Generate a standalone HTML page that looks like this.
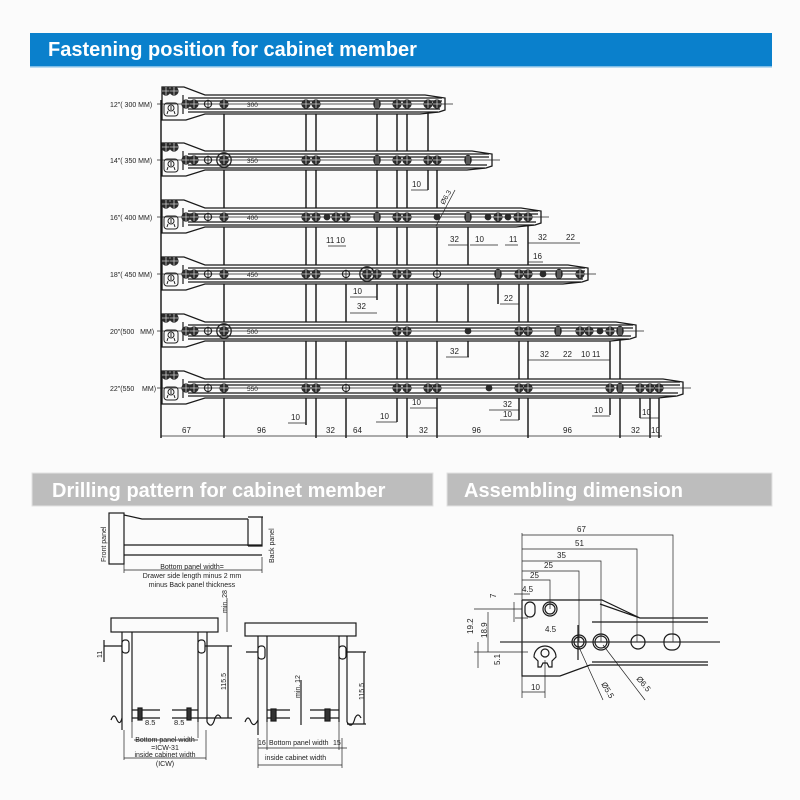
<!DOCTYPE html>
<html><head><meta charset="utf-8"><style>
html,body{margin:0;padding:0;background:#fbfbfb;}
svg{display:block;font-family:"Liberation Sans",sans-serif;}
.l{stroke:#1a1a1a;stroke-width:1.2;fill:none}
.t{stroke:#222;stroke-width:.7;fill:none}
.r{stroke:#1a1a1a;stroke-width:1.3;fill:#fbfbfb}
.v{stroke:#111;stroke-width:1.4}
text{fill:#222;font-size:8px}
</style></head><body>
<svg width="800" height="800" viewBox="0 0 800 800" xmlns="http://www.w3.org/2000/svg">
<defs>
<g id="h"><circle r="4.6" fill="#2a2a2a"/><path d="M-4,0H4M0,-4V4" stroke="#ccc" stroke-width=".8"/></g>
<g id="o"><circle r="3.6" fill="none" stroke="#222" stroke-width="1.1"/><path d="M-4.5,0H4.5M0,-4.5V4.5" stroke="#222" stroke-width=".8"/></g>
<g id="b"><circle r="7.2" fill="none" stroke="#222" stroke-width="1.3"/><circle r="4.8" fill="#2a2a2a"/><path d="M-4,0H4M0,-4V4" stroke="#ccc" stroke-width=".8"/></g>
<g id="s"><ellipse rx="3.8" ry="5.2" fill="#2a2a2a"/><path d="M-1,-4V4M1,-4V4" stroke="#ccc" stroke-width=".6"/></g>
<g id="m"><circle r="3.4" fill="#2a2a2a"/></g>
<g id="lg"><rect x="-7" y="-6" width="14" height="13" rx="3" fill="none" stroke="#222" stroke-width="1"/><circle r="3" cy="-1" fill="none" stroke="#222" stroke-width="1"/><path d="M-3,2L-4,5M3,2L4,5M0,-3V1" stroke="#222" stroke-width="1"/></g>
</defs>

<rect x="30" y="33" width="742" height="33" fill="#0a80cc"/>
<rect x="30" y="66" width="742" height="1.5" fill="#7fbde6"/>
<text x="48" y="56" style="font-size:20px;font-weight:bold;fill:#fff">Fastening position for cabinet member</text>

<g class="v">
<line x1="224" y1="104" x2="224" y2="438"/>
<line x1="306" y1="104" x2="306" y2="425"/>
<line x1="316" y1="104" x2="316" y2="438"/>
<line x1="346" y1="274" x2="346" y2="438"/>
<line x1="377" y1="104" x2="377" y2="300"/>
<line x1="397" y1="104" x2="397" y2="422"/>
<line x1="407" y1="104" x2="407" y2="438"/>
<line x1="428" y1="104" x2="428" y2="190"/>
<line x1="437" y1="160" x2="437" y2="438"/>
<line x1="468" y1="217" x2="468" y2="357"/>
<line x1="498" y1="274" x2="498" y2="304"/>
<line x1="519" y1="274" x2="519" y2="420"/>
<line x1="528" y1="217" x2="528" y2="438"/>
<line x1="610" y1="331" x2="610" y2="415"/>
<line x1="620" y1="331" x2="620" y2="438"/>
<line x1="640" y1="388" x2="640" y2="418"/>
<line x1="650" y1="388" x2="650" y2="438"/>
<line x1="659" y1="388" x2="659" y2="438"/>
<line x1="161" y1="100" x2="161" y2="438"/>
</g>

<g transform="translate(0,104)">
<path class="r" d="M162,-17L184,-17L205,-9L425,-9L445,-6L445,6L439,8L420,10L205,10L186,16L162,16Z"/>
<path class="l" d="M183,-9V10M188,-6H442M188,-3H442M188,5H440M188,8H438"/>
<line class="t" x1="157" y1="0" x2="453" y2="0"/>
<use href="#h" x="166" y="-13"/><use href="#h" x="174" y="-13"/><use href="#lg" x="171" y="5"/>
<use href="#h" x="186"/><use href="#h" x="194"/><use href="#o" x="208"/><use href="#h" x="224"/>
<use href="#h" x="306"/><use href="#h" x="316"/><use href="#s" x="377"/><use href="#h" x="397"/><use href="#h" x="407"/><use href="#h" x="428"/><use href="#h" x="437"/>
<text x="247" y="3" style="font-size:6.5px">300</text>
<text x="110" y="3" style="font-size:7px">12"( 300 MM)</text>
</g>
<g transform="translate(0,160)">
<path class="r" d="M162,-17L184,-17L205,-9L472,-9L492,-6L492,6L486,8L467,10L205,10L186,16L162,16Z"/>
<path class="l" d="M183,-9V10M188,-6H489M188,-3H489M188,5H487M188,8H485"/>
<line class="t" x1="157" y1="0" x2="500" y2="0"/>
<use href="#h" x="166" y="-13"/><use href="#h" x="174" y="-13"/><use href="#lg" x="171" y="5"/>
<use href="#h" x="186"/><use href="#h" x="194"/><use href="#o" x="208"/><use href="#b" x="224"/>
<use href="#h" x="306"/><use href="#h" x="316"/><use href="#s" x="377"/><use href="#h" x="397"/><use href="#h" x="407"/><use href="#h" x="428"/><use href="#h" x="437"/><use href="#s" x="468"/>
<text x="247" y="3" style="font-size:6.5px">350</text>
<text x="110" y="3" style="font-size:7px">14"( 350 MM)</text>
</g>
<g transform="translate(0,217)">
<path class="r" d="M162,-17L184,-17L205,-9L521,-9L541,-6L541,6L535,8L516,10L205,10L186,16L162,16Z"/>
<path class="l" d="M183,-9V10M188,-6H538M188,-3H538M188,5H536M188,8H534"/>
<line class="t" x1="157" y1="0" x2="549" y2="0"/>
<use href="#h" x="166" y="-13"/><use href="#h" x="174" y="-13"/><use href="#lg" x="171" y="5"/>
<use href="#h" x="186"/><use href="#h" x="194"/><use href="#o" x="208"/><use href="#h" x="224"/>
<use href="#h" x="306"/><use href="#h" x="316"/><use href="#m" x="327"/><use href="#h" x="336"/><use href="#h" x="346"/><use href="#s" x="377"/><use href="#h" x="397"/><use href="#h" x="407"/><use href="#m" x="437"/><use href="#s" x="468"/>
<use href="#m" x="488"/><use href="#h" x="498"/><use href="#m" x="508"/><use href="#h" x="518"/><use href="#h" x="528"/>
<text x="247" y="3" style="font-size:6.5px">400</text>
<text x="110" y="3" style="font-size:7px">16"( 400 MM)</text>
</g>
<g transform="translate(0,274)">
<path class="r" d="M162,-17L184,-17L205,-9L568,-9L588,-6L588,6L582,8L563,10L205,10L186,16L162,16Z"/>
<path class="l" d="M183,-9V10M188,-6H585M188,-3H585M188,5H583M188,8H581"/>
<line class="t" x1="157" y1="0" x2="596" y2="0"/>
<use href="#h" x="166" y="-13"/><use href="#h" x="174" y="-13"/><use href="#lg" x="171" y="5"/>
<use href="#h" x="186"/><use href="#h" x="194"/><use href="#o" x="208"/><use href="#h" x="224"/>
<use href="#h" x="306"/><use href="#h" x="316"/><use href="#o" x="346"/><use href="#b" x="367"/><use href="#h" x="377"/><use href="#h" x="397"/><use href="#h" x="407"/><use href="#o" x="437"/><use href="#s" x="498"/>
<use href="#h" x="519"/><use href="#h" x="528"/><use href="#m" x="543"/><use href="#s" x="559"/><use href="#h" x="580"/>
<text x="247" y="3" style="font-size:6.5px">450</text>
<text x="110" y="3" style="font-size:7px">18"( 450 MM)</text>
</g>
<g transform="translate(0,331)">
<path class="r" d="M162,-17L184,-17L205,-9L616,-9L636,-6L636,6L630,8L611,10L205,10L186,16L162,16Z"/>
<path class="l" d="M183,-9V10M188,-6H633M188,-3H633M188,5H631M188,8H629"/>
<line class="t" x1="157" y1="0" x2="644" y2="0"/>
<use href="#h" x="166" y="-13"/><use href="#h" x="174" y="-13"/><use href="#lg" x="171" y="5"/>
<use href="#h" x="186"/><use href="#h" x="194"/><use href="#o" x="208"/><use href="#b" x="224"/>
<use href="#h" x="397"/><use href="#h" x="407"/><use href="#m" x="468"/><use href="#h" x="519"/><use href="#h" x="528"/><use href="#s" x="558"/>
<use href="#h" x="580"/><use href="#h" x="589"/><use href="#m" x="600"/><use href="#h" x="610"/><use href="#s" x="620"/>
<text x="247" y="3" style="font-size:6.5px">500</text>
<text x="110" y="3" style="font-size:7px">20"(500 &#160;&#160;MM)</text>
</g>
<g transform="translate(0,388)">
<path class="r" d="M162,-17L184,-17L205,-9L663,-9L683,-6L683,6L677,8L658,10L205,10L186,16L162,16Z"/>
<path class="l" d="M183,-9V10M188,-6H680M188,-3H680M188,5H678M188,8H676"/>
<line class="t" x1="157" y1="0" x2="691" y2="0"/>
<use href="#h" x="166" y="-13"/><use href="#h" x="174" y="-13"/><use href="#lg" x="171" y="5"/>
<use href="#h" x="186"/><use href="#h" x="194"/><use href="#o" x="208"/><use href="#h" x="224"/>
<use href="#h" x="306"/><use href="#h" x="316"/><use href="#o" x="346"/><use href="#h" x="397"/><use href="#h" x="407"/><use href="#h" x="428"/><use href="#h" x="437"/><use href="#m" x="489"/>
<use href="#h" x="519"/><use href="#h" x="528"/><use href="#h" x="610"/><use href="#s" x="620"/><use href="#h" x="640"/><use href="#h" x="650"/><use href="#h" x="659"/>
<text x="247" y="3" style="font-size:6.5px">550</text>
<text x="110" y="3" style="font-size:7px">22"(550 &#160;&#160;&#160;MM)</text>
</g>

<g class="t">
<path d="M161,436H662"/>
<path d="M411,190H428M448,245H468M470,245H498M328,246H346M505,245H518M528,243H555M555,243H580M528,262H543M350,297H377M350,313H377M500,304H519M469,357H446M528,360H558M558,360H580M580,360H600M600,360H610"/>
<path d="M288,423H306M376,422H397M410,408H437M489,410H519M500,420H519M592,416H610M640,418H659"/>
<path d="M436,226L455,190"/>
</g>
<g style="font-size:7.5px">
<text x="412" y="187">10</text><text x="450" y="242">32</text><text x="475" y="242">10</text><text x="509" y="242">11</text><text x="538" y="240">32</text><text x="566" y="240">22</text><text x="533" y="259">16</text>
<text x="326" y="243">11</text><text x="336" y="243">10</text><text x="353" y="294">10</text><text x="357" y="309">32</text><text x="504" y="301">22</text>
<text x="450" y="354">32</text><text x="540" y="357">32</text><text x="563" y="357">22</text><text x="581" y="357">10</text><text x="592" y="357">11</text>
<text x="291" y="420">10</text><text x="380" y="419">10</text><text x="412" y="405">10</text><text x="503" y="407">32</text><text x="503" y="417">10</text><text x="594" y="413">10</text><text x="642" y="415">10</text>
<text x="182" y="433">67</text><text x="257" y="433">96</text><text x="326" y="433">32</text><text x="353" y="433">64</text><text x="419" y="433">32</text><text x="472" y="433">96</text><text x="563" y="433">96</text><text x="631" y="433">32</text><text x="651" y="433">10</text>
<text x="0" y="0" transform="translate(444,205) rotate(-60)" style="font-size:7px">Ø6.3</text>
</g>

<rect x="32" y="473" width="401" height="33" fill="#bdbdbd" stroke="#e2e2e2"/>
<text x="52" y="497" style="font-size:20px;font-weight:bold;fill:#fff">Drilling pattern for cabinet member</text>
<rect x="447" y="473" width="325" height="33" fill="#bdbdbd" stroke="#e2e2e2"/>
<text x="464" y="497" style="font-size:20px;font-weight:bold;fill:#fff">Assembling dimension</text>

<g class="l">
<rect x="109" y="513" width="15" height="51"/>
<path d="M124,515L142,519H248M248,519V546M262,517V546H248M248,517H263M124,545H262M124,555H262"/>
<path class="t" d="M124,557V573M262,557V573M124,570H262"/>
</g>
<text x="192" y="569" text-anchor="middle" style="font-size:7px">Bottom panel width=</text>
<text x="192" y="578" text-anchor="middle" style="font-size:7px">Drawer side length minus 2 mm</text>
<text x="192" y="587" text-anchor="middle" style="font-size:7px">minus Back panel thickness</text>
<text transform="translate(106,562) rotate(-90)" style="font-size:7px">Front panel</text>
<text transform="translate(274,563) rotate(-90)" style="font-size:7px">Back panel</text>

<g class="l">
<rect x="111" y="618" width="107" height="14"/>
<path d="M122,632V730M132,632V722M198,632V722M207,632V722"/>
<path d="M111,720q3,-8 6,0q3,6 5,-2M207,722q5,8 8,-4q3,-6 6,0"/>
<path d="M132,710H160M132,718H160M172,710H198M172,718H198" />
<rect x="138" y="708" width="4" height="12" fill="#333"/><rect x="187" y="708" width="4" height="12" fill="#333"/>
<path d="M122,646H104M104,640V662M198,646H232M198,718H232M228,646V718"/>
<path class="t" d="M134,740H198M124,758H206M124,730V760M206,730V760M132,722V738M198,722V738M227,598V632"/>
<rect x="122" y="640" width="7" height="13" rx="3" fill="#fff"/><rect x="198" y="640" width="7" height="13" rx="3" fill="#fff"/>
</g>
<text x="145" y="725" style="font-size:7.5px">8.5</text><text x="174" y="725" style="font-size:7.5px">8.5</text>
<text x="165" y="742" text-anchor="middle" style="font-size:7px">Bottom panel width</text>
<text x="165" y="750" text-anchor="middle" style="font-size:7px">=ICW-31</text>
<text x="165" y="757" text-anchor="middle" style="font-size:7px">inside cabinet width</text>
<text x="165" y="766" text-anchor="middle" style="font-size:7px">(ICW)</text>
<text transform="translate(227,613) rotate(-90)" style="font-size:7px">min. 28</text>
<text transform="translate(226,690) rotate(-90)" style="font-size:7px">115.5</text>
<text transform="translate(102,658) rotate(-90)" style="font-size:7px">11</text>

<g class="l">
<rect x="245" y="623" width="111" height="13"/>
<path d="M258,636V735M267,636V722M339,636V722M347,636V722"/>
<path d="M245,722q3,-8 6,0q3,6 7,-2M347,722q5,8 8,-4q3,-6 6,0"/>
<path d="M267,710H290M267,718H290M310,710H339M310,718H339M301,680V725"/>
<rect x="271" y="709" width="5" height="12" fill="#333"/><rect x="325" y="709" width="5" height="12" fill="#333"/>
<path d="M347,652H366M347,724H366M364,652V724M246,652H258"/>
<path class="t" d="M258,748H347M258,765H342M258,738V768M342,738V768M267,722V750M339,722V750"/>
<rect x="258" y="646" width="7" height="13" rx="3" fill="#fff"/><rect x="339" y="646" width="7" height="13" rx="3" fill="#fff"/>
</g>
<text x="258" y="745" style="font-size:7px">16</text><text x="269" y="745" style="font-size:7px">Bottom panel width</text><text x="333" y="745" style="font-size:7px">15</text>
<text x="265" y="760" style="font-size:7px">inside cabinet width</text>
<text transform="translate(300,698) rotate(-90)" style="font-size:7px">min. 12</text>
<text transform="translate(364,700) rotate(-90)" style="font-size:7px">115.5</text>

<g class="t">
<path d="M522,533V698M522,535H673V642M522,549H637V642M522,561H601V642M522,571H579V642M522,580H550V609"/>
<path d="M514,594H530M514,602V622M515,618H528M474,609H522M474,652H528M488,612V652M478,642V668"/>
<path d="M522,692H545M545,660V698"/>
<path d="M578,645L603,700M603,645L645,700"/>
</g>
<g class="l">
<path d="M522,600H602L640,618H708M522,600V676H560L590,665H708M592,622H708M592,662H708M578,625V660M600,604L640,618"/>
<line x1="500" y1="642" x2="720" y2="642" stroke="#333"/>
<rect x="525" y="602" width="10" height="15" rx="5"/>
<circle cx="550" cy="609" r="7"/><circle cx="550" cy="609" r="5"/>
<circle cx="579" cy="642" r="7"/><circle cx="579" cy="642" r="5"/>
<circle cx="601" cy="642" r="8"/><circle cx="601" cy="642" r="6"/>
<circle cx="638" cy="642" r="7"/>
<rect x="664" y="634" width="16" height="16" rx="7"/>
<path d="M534,657a11,11 0 1,1 22,0l-4,4v6h-3l-2,-4h-4l-2,4h-3v-6z"/><circle cx="545" cy="653" r="4"/>
</g>
<g style="font-size:7px">
<text x="577" y="532">67</text><text x="575" y="546">51</text><text x="557" y="558">35</text><text x="544" y="568">25</text><text x="530" y="578">25</text>
<text x="522" y="592">4.5</text><text x="545" y="632">4.5</text><text x="531" y="690">10</text>
<text transform="translate(496,598) rotate(-90)">7</text>
<text transform="translate(473,634) rotate(-90)">19.2</text>
<text transform="translate(487,638) rotate(-90)">18.9</text>
<text transform="translate(500,665) rotate(-90)">5.1</text>
<text transform="translate(601,684) rotate(60)">Ø5.5</text>
<text transform="translate(636,679) rotate(50)">Ø6.5</text>
</g>
</svg>
</body></html>
